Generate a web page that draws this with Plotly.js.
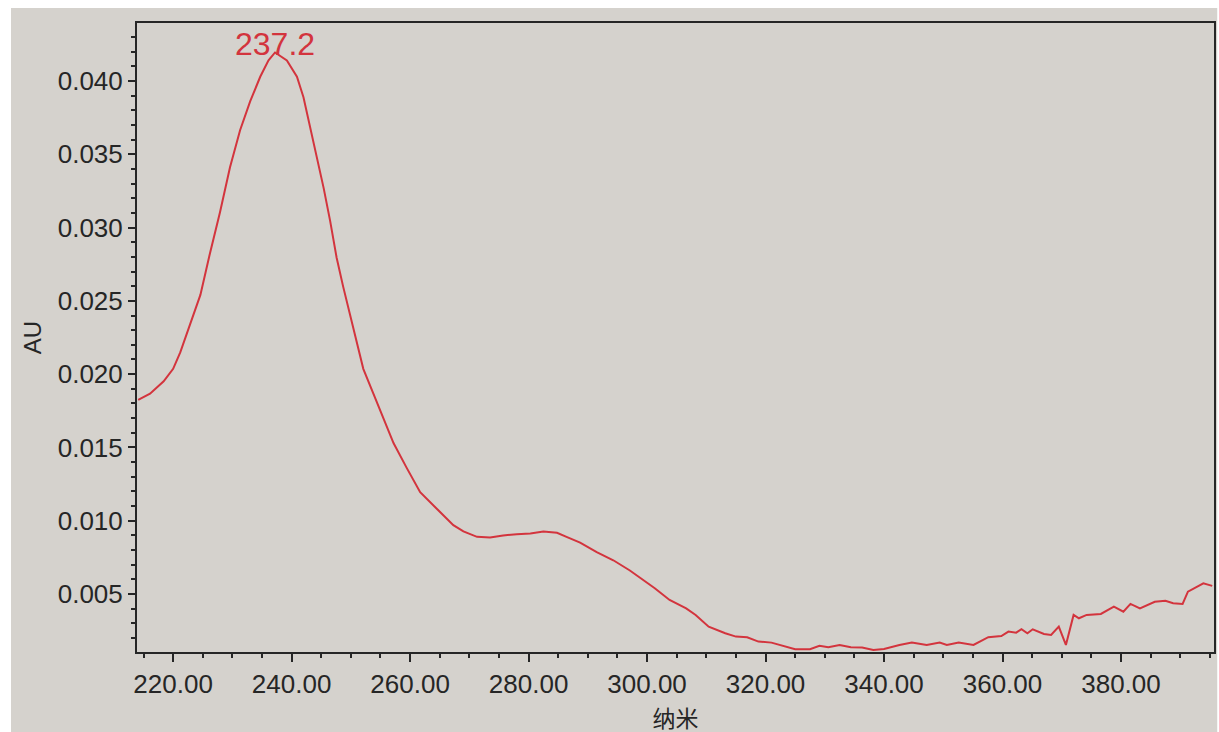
<!DOCTYPE html>
<html>
<head>
<meta charset="utf-8">
<script src="https://cdn.plot.ly/plotly-3.0.1.min.js"></script>
<style>
  html, body { margin: 0; padding: 0; background: #ffffff; }
  #chart { width: 1219px; height: 732px; }
</style>
</head>
<body>
<div id="chart"></div>
<script>
// Wavelength (nm) of each read point
const wavelength = [
  214.1, 216.1, 218.4, 220.0, 221.2, 222.9, 224.6, 226.2, 227.9, 229.6,
  231.3, 233.0, 234.7, 236.1, 237.2, 239.2, 240.9, 242.0, 243.1, 244.3,
  245.4, 246.5, 247.6, 248.7, 249.9, 251.0, 252.1, 253.8, 255.5, 257.2,
  259.4, 261.7, 264.5, 267.3, 269.0, 271.3, 273.5, 275.7, 278.0, 280.3,
  282.5, 284.8, 286.4, 288.7, 291.5, 294.3, 297.1, 299.2, 301.3, 303.8,
  306.6, 308.2, 310.4, 313.2, 315.0, 316.9, 318.8, 321.0, 323.1, 325.0,
  327.5, 329.1, 330.6, 332.5, 334.4, 336.3, 338.2, 340.0, 342.6, 344.7,
  347.2, 349.4, 350.6, 352.6, 355.1, 357.6, 359.8, 361.0, 362.3, 363.2,
  364.2, 365.1, 367.0, 368.2, 369.5, 370.7, 372.0, 372.9, 374.2, 376.6,
  378.8, 380.4, 381.6, 383.2, 385.7, 387.5, 388.8, 390.4, 391.3, 393.9,
  395.4
];
// Absorbance (AU) at each wavelength
const absorbance = [
  0.01825, 0.01867, 0.01951, 0.02036, 0.02148, 0.02345, 0.02541, 0.02822, 0.03103, 0.03411,
  0.03664, 0.03861, 0.04029, 0.04141, 0.04195, 0.04141, 0.04029, 0.03889, 0.03692, 0.03468,
  0.03271, 0.03046, 0.02794, 0.02597, 0.02401, 0.02204, 0.02036, 0.01867, 0.01699, 0.01530,
  0.01362, 0.01194, 0.01082, 0.00970, 0.00927, 0.00890, 0.00885, 0.00899, 0.00908, 0.00913,
  0.00927, 0.00918, 0.00890, 0.00851, 0.00786, 0.00730, 0.00660, 0.00600, 0.00539, 0.00459,
  0.00402, 0.00357, 0.00277, 0.00232, 0.00209, 0.00205, 0.00175, 0.00168, 0.00145, 0.00123,
  0.00123, 0.00147, 0.00136, 0.00152, 0.00136, 0.00134, 0.00118, 0.00125, 0.00152, 0.00168,
  0.00152, 0.00168, 0.00152, 0.00168, 0.00152, 0.00205, 0.00213, 0.00243, 0.00236, 0.00259,
  0.00232, 0.00259, 0.00227, 0.00220, 0.00277, 0.00152, 0.00357, 0.00334, 0.00357, 0.00364,
  0.00413, 0.00379, 0.00432, 0.00402, 0.00447, 0.00454, 0.00437, 0.00432, 0.00516, 0.00573,
  0.00555
];
// Tick labels
const xTickVals = [220, 240, 260, 280, 300, 320, 340, 360, 380];
const xTickText = ["220.00", "240.00", "260.00", "280.00", "300.00", "320.00", "340.00", "360.00", "380.00"];
const yTickVals = [0.005, 0.010, 0.015, 0.020, 0.025, 0.030, 0.035, 0.040];
const yTickText = ["0.005", "0.010", "0.015", "0.020", "0.025", "0.030", "0.035", "0.040"];
const peakWavelength = 237.2;
const peakLabel = "237.2";
const xTitle = "纳米";
const yTitle = "AU";

const FONT = "Liberation Sans, Arial, Noto Sans CJK SC, sans-serif";
const BG = "#d5d2cd";
const INK = "#262626";
const RED = "#d3343d";

const trace = {
  x: wavelength,
  y: absorbance,
  type: "scatter",
  mode: "lines",
  line: { color: RED, width: 2 },
  hoverinfo: "x+y"
};

const layout = {
  width: 1219,
  height: 732,
  margin: { l: 137, r: 5, t: 23, b: 80, pad: 0 },
  paper_bgcolor: BG,
  plot_bgcolor: BG,
  showlegend: false,
  font: { family: FONT, color: INK, size: 26 },
  xaxis: {
    range: [213.9, 395.7],
    tickmode: "array",
    tickvals: xTickVals,
    ticktext: xTickText,
    ticks: "outside",
    ticklen: 8,
    tickwidth: 2,
    tickcolor: INK,
    minor: { tickmode: "linear", tick0: 0, dtick: 5, ticks: "outside", ticklen: 4, tickwidth: 2, tickcolor: INK, showgrid: false },
    showline: true,
    linecolor: INK,
    linewidth: 2,
    mirror: true,
    showgrid: false,
    zeroline: false,
    tickfont: { family: FONT, size: 26, color: INK },
    title: { text: xTitle, font: { family: FONT, size: 23, color: INK }, standoff: 13 },
    automargin: false
  },
  yaxis: {
    range: [0.00104, 0.04396],
    tickmode: "array",
    tickvals: yTickVals,
    ticktext: yTickText,
    ticks: "outside",
    ticklen: 7,
    tickwidth: 2,
    tickcolor: INK,
    minor: { tickmode: "linear", tick0: 0, dtick: 0.001, ticks: "outside", ticklen: 4, tickwidth: 2, tickcolor: INK, showgrid: false },
    showline: true,
    linecolor: INK,
    linewidth: 2,
    mirror: true,
    showgrid: false,
    zeroline: false,
    tickfont: { family: FONT, size: 26, color: INK },
    title: { text: yTitle, font: { family: FONT, size: 24, color: INK }, standoff: 9 },
    automargin: false
  },
  annotations: [{
    x: peakWavelength,
    y: 0.04256,
    xref: "x",
    yref: "y",
    text: peakLabel,
    showarrow: false,
    xanchor: "center",
    yanchor: "middle",
    font: { family: FONT, size: 32, color: RED }
  }],
  shapes: [
    { type: "rect", xref: "paper", yref: "paper", x0: -0.2, x1: -0.1170, y0: -0.2, y1: 1.1, fillcolor: "#ffffff", line: { width: 0 }, layer: "above" },
    { type: "rect", xref: "paper", yref: "paper", x0: -0.2, x1: 1.1, y0: 1.0238, y1: 1.1, fillcolor: "#ffffff", line: { width: 0 }, layer: "above" },
    { type: "rect", xref: "paper", yref: "paper", x0: 1.0030, x1: 1.1, y0: -0.2, y1: 1.1, fillcolor: "#ffffff", line: { width: 0 }, layer: "above" }
  ]
};

Plotly.newPlot("chart", [trace], layout, { displayModeBar: false, staticPlot: true });
</script>
</body>
</html>
